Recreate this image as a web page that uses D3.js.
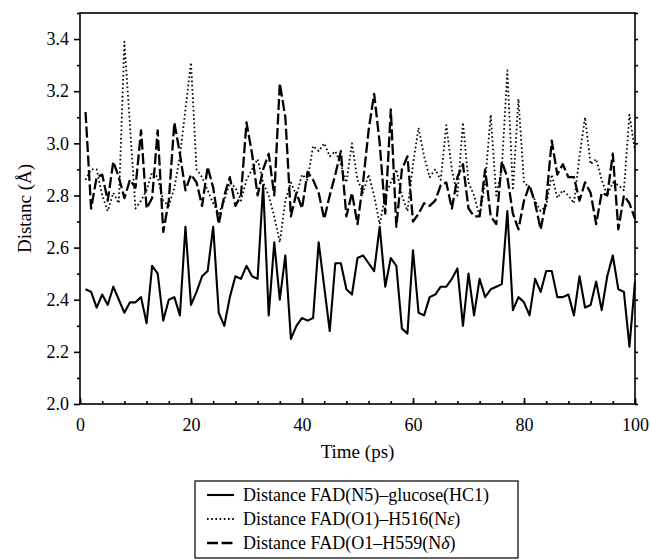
<!DOCTYPE html>
<html>
<head>
<meta charset="utf-8">
<script src="https://cdn.jsdelivr.net/npm/d3@7"></script>
<style>
  body { margin: 0; background: #fff; }
  svg, svg text { font-family: "Liberation Serif", "Times New Roman", serif !important; }
</style>
</head>
<body>
<div id="chart"></div>
<script>
// Distances from the MD run, one value per ps
const time = [1,2,3,4,5,6,7,8,9,10,11,12,13,14,15,16,17,18,19,20,
  21,22,23,24,25,26,27,28,29,30,31,32,33,34,35,36,37,38,39,40,
  41,42,43,44,45,46,47,48,49,50,51,52,53,54,55,56,57,58,59,60,
  61,62,63,64,65,66,67,68,69,70,71,72,73,74,75,76,77,78,79,80,
  81,82,83,84,85,86,87,88,89,90,91,92,93,94,95,96,97,98,99,100];

const n5Glucose = [2.44,2.43,2.37,2.42,2.38,2.45,2.40,2.35,2.39,2.39,
  2.41,2.31,2.53,2.50,2.32,2.40,2.41,2.34,2.68,2.38,
  2.43,2.49,2.51,2.68,2.35,2.30,2.41,2.49,2.48,2.53,
  2.49,2.48,2.84,2.34,2.62,2.40,2.57,2.25,2.30,2.33,
  2.32,2.33,2.62,2.45,2.28,2.54,2.54,2.44,2.42,2.56,
  2.57,2.54,2.51,2.68,2.45,2.56,2.53,2.29,2.27,2.59,
  2.35,2.34,2.41,2.42,2.45,2.45,2.48,2.52,2.30,2.50,
  2.34,2.48,2.41,2.44,2.45,2.46,2.74,2.36,2.41,2.39,
  2.34,2.48,2.43,2.51,2.51,2.41,2.41,2.42,2.34,2.49,
  2.37,2.38,2.47,2.36,2.49,2.57,2.44,2.43,2.22,2.47];

const o1H516 = [2.86,2.90,2.90,2.80,2.74,2.81,2.77,3.39,3.07,2.75,
  2.78,2.82,2.89,2.87,2.78,2.76,2.83,2.95,3.13,3.31,
  2.90,2.87,2.82,2.77,2.73,2.78,2.85,2.83,2.78,2.86,
  2.90,2.94,2.85,2.80,2.72,2.62,2.78,2.85,2.80,2.88,
  2.86,2.99,2.97,3.00,2.95,2.97,2.92,2.85,3.00,2.86,
  2.81,2.88,2.80,2.69,2.80,2.85,2.90,2.80,2.74,2.92,
  3.06,2.95,2.87,2.90,2.86,3.07,2.90,2.80,3.08,2.85,
  2.80,2.72,2.85,3.11,2.80,2.90,3.28,2.82,3.17,2.85,
  2.83,2.78,2.74,2.76,2.88,2.79,2.82,2.80,2.77,2.95,
  3.10,2.92,2.94,2.86,2.80,2.85,2.84,2.82,3.11,2.97];

const o1H559 = [3.12,2.75,2.87,2.88,2.78,2.93,2.87,2.79,2.86,2.83,
  3.05,2.75,2.79,3.05,2.66,2.78,3.08,2.96,2.82,2.88,
  2.85,2.76,2.91,2.83,2.69,2.80,2.87,2.76,2.80,3.08,
  2.96,2.80,2.90,2.96,2.80,3.23,3.10,2.72,2.81,2.75,
  2.89,2.86,2.81,2.71,2.80,2.88,2.97,2.72,2.81,2.69,
  2.85,3.05,3.19,3.00,2.73,3.13,2.68,2.90,2.95,2.70,
  2.73,2.77,2.76,2.78,2.84,2.85,2.75,2.87,2.92,2.75,
  2.72,2.72,2.90,2.72,2.69,2.93,2.87,2.73,2.67,2.78,
  2.84,2.77,2.67,2.78,3.01,2.88,2.92,2.87,2.87,2.78,
  2.85,2.81,2.69,2.81,2.80,2.96,2.67,2.80,2.77,2.71];

const legendLabels = [
  ['Distance FAD(N5)\u2013glucose(HC1)', null],
  ['Distance FAD(O1)\u2013H516(N', '\u03b5'],
  ['Distance FAD(O1\u2013H559(N', '\u03b4']
];
const xTicks = [0, 20, 40, 60, 80, 100];
const yTicks = [2.0, 2.2, 2.4, 2.6, 2.8, 3.0, 3.2, 3.4];

const W = 650, H = 560;
const M = { left: 80, right: 15, top: 13, bottom: 156 };
const FONT = '"Liberation Serif", "Times New Roman", serif';

const svg = d3.select('#chart').append('svg')
  .attr('width', W).attr('height', H);

const x = d3.scaleLinear().domain([0, 100]).range([M.left, W - M.right]);
const y = d3.scaleLinear().domain([2.0, 3.5]).range([H - M.bottom, M.top]);

const styles = [
  { data: n5Glucose, dash: null,      width: 2.1 },
  { data: o1H516,    dash: '1.6 2.6', width: 1.8 },
  { data: o1H559,    dash: '11 3.5',  width: 2.3 }
];

const line = d3.line().x(d => x(d[0])).y(d => y(d[1]));

styles.forEach(s => {
  svg.append('path')
    .datum(time.map((t, i) => [t, s.data[i]]))
    .attr('fill', 'none')
    .attr('stroke', '#000')
    .attr('stroke-width', s.width)
    .attr('stroke-dasharray', s.dash)
    .attr('stroke-linejoin', 'round')
    .attr('d', line);
});

// frame
svg.append('rect')
  .attr('x', x(0)).attr('y', y(3.5))
  .attr('width', x(100) - x(0)).attr('height', y(2.0) - y(3.5))
  .attr('fill', 'none').attr('stroke', '#000').attr('stroke-width', 1.6);

const styleAxis = g => {
  g.attr('font-family', FONT);
  g.select('.domain').remove();
  g.selectAll('text').attr('font-size', 18).attr('fill', '#000').style('font-family', FONT);
  g.selectAll('line').attr('stroke-width', 1.6);
};

// bottom axis, ticks inward
svg.append('g').attr('transform', `translate(0,${y(2.0)})`)
  .call(d3.axisBottom(x).tickValues(d3.range(0, 101, 4)).tickSize(-3).tickFormat(''))
  .call(styleAxis);
svg.append('g').attr('transform', `translate(0,${y(2.0)})`)
  .call(d3.axisBottom(x).tickValues(xTicks).tickSize(-6).tickPadding(14).tickFormat(d3.format('d')))
  .call(styleAxis);

// left axis, ticks outward
svg.append('g').attr('transform', `translate(${x(0)},0)`)
  .call(d3.axisLeft(y).tickValues(d3.range(2.1, 3.51, 0.2)).tickSize(3).tickFormat(''))
  .call(styleAxis);
svg.append('g').attr('transform', `translate(${x(0)},0)`)
  .call(d3.axisLeft(y).tickValues(yTicks).tickSize(6).tickPadding(5).tickFormat(d3.format('.1f')))
  .call(styleAxis);

// right axis, small outward ticks
svg.append('g').attr('transform', `translate(${x(100)},0)`)
  .call(d3.axisRight(y).tickValues(d3.range(2.0, 3.51, 0.1)).tickSize(3).tickFormat(''))
  .call(styleAxis);

// axis titles
svg.append('text')
  .attr('x', (x(0) + x(100)) / 2).attr('y', 458)
  .attr('text-anchor', 'middle').attr('font-size', 19)
  .text('Time (ps)');
svg.append('text')
  .attr('transform', `translate(31,${(y(2.0) + y(3.5)) / 2}) rotate(-90)`)
  .attr('text-anchor', 'middle').attr('font-size', 19)
  .text('Distanc (\u00c5)');

// legend
const lg = svg.append('g');
lg.append('rect')
  .attr('x', 195).attr('y', 481).attr('width', 323).attr('height', 77)
  .attr('fill', '#fff').attr('stroke', '#000').attr('stroke-width', 1.2);
legendLabels.forEach((lab, i) => {
  const yy = 495 + i * 24;
  lg.append('line')
    .attr('x1', 207).attr('x2', 234).attr('y1', yy).attr('y2', yy)
    .attr('stroke', '#000')
    .attr('stroke-width', styles[i].width)
    .attr('stroke-dasharray', styles[i].dash);
  const t = lg.append('text')
    .attr('x', 243).attr('y', yy + 6).attr('font-size', 18);
  t.append('tspan').text(lab[0]);
  if (lab[1]) {
    t.append('tspan').attr('font-style', 'italic').text(lab[1]);
    t.append('tspan').text(')');
  }
});
</script>
</body>
</html>
